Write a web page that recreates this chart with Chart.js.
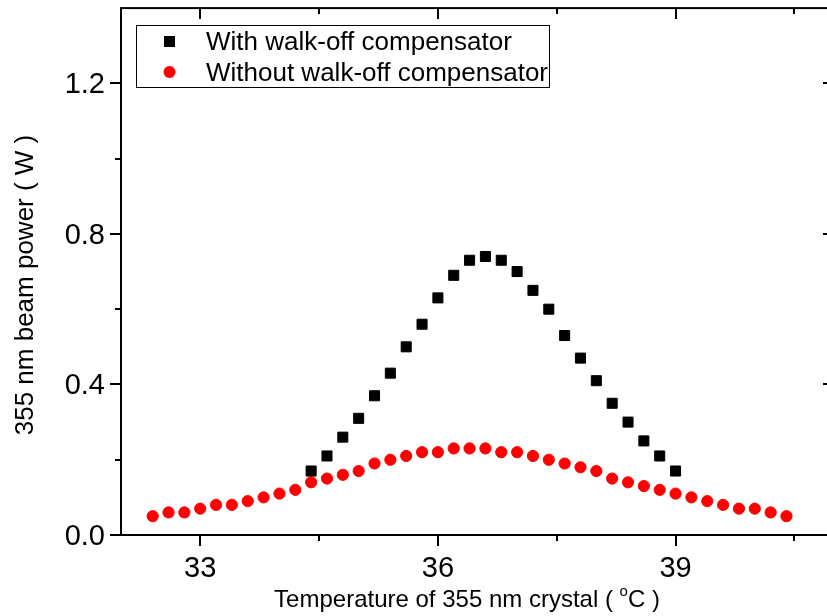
<!DOCTYPE html>
<html lang="en">
<head>
    <meta charset="UTF-8">
    <title>355 nm beam power vs temperature</title>
    <script src="https://cdn.jsdelivr.net/npm/chart.js"></script>
    <style>
        html, body {
            margin: 0;
            padding: 0;
            background: #fff;
            overflow: hidden;
        }
        .chart-box {
            width: 827px;
            height: 616px;
            overflow: hidden; /* the right axis sits just outside the picture */
        }
    </style>
</head>
<body>
    <div class="chart-box">
        <canvas id="powerChart" width="845" height="616"></canvas>
    </div>

    <script>
        // Temperatures (deg C) and measured power (W)
        const tempWith = [34.4, 34.6, 34.8, 35.0, 35.2, 35.4, 35.6, 35.8, 36.0, 36.2, 36.4, 36.6,
                          36.8, 37.0, 37.2, 37.4, 37.6, 37.8, 38.0, 38.2, 38.4, 38.6, 38.8, 39.0];
        const powerWith = [0.17, 0.21, 0.26, 0.31, 0.37, 0.43, 0.50, 0.56, 0.63, 0.69, 0.73, 0.74,
                           0.73, 0.70, 0.65, 0.60, 0.53, 0.47, 0.41, 0.35, 0.30, 0.25, 0.21, 0.17];

        const tempWithout = [32.4, 32.6, 32.8, 33.0, 33.2, 33.4, 33.6, 33.8, 34.0, 34.2, 34.4, 34.6,
                             34.8, 35.0, 35.2, 35.4, 35.6, 35.8, 36.0, 36.2, 36.4, 36.6, 36.8, 37.0,
                             37.2, 37.4, 37.6, 37.8, 38.0, 38.2, 38.4, 38.6, 38.8, 39.0, 39.2, 39.4,
                             39.6, 39.8, 40.0, 40.2, 40.4];
        const powerWithout = [0.05, 0.06, 0.06, 0.07, 0.08, 0.08, 0.09, 0.10, 0.11, 0.12, 0.14, 0.15,
                              0.16, 0.17, 0.19, 0.20, 0.21, 0.22, 0.22, 0.23, 0.23, 0.23, 0.22, 0.22,
                              0.21, 0.20, 0.19, 0.18, 0.17, 0.15, 0.14, 0.13, 0.12, 0.11, 0.10, 0.09,
                              0.08, 0.07, 0.07, 0.06, 0.05];

        // Axis ticks
        const xMajorTicks = [33, 36, 39];
        const xMinorTicks = [34.5, 37.5, 40.5];
        const yMajorTicks = [0.0, 0.4, 0.8, 1.2];
        const yMinorTicks = [0.2, 0.6, 1.0];

        const seriesNames = ['With walk-off compensator', 'Without walk-off compensator'];

        const FONT = '"Liberation Sans", Arial, sans-serif';

        function toPoints(xs, ys) {
            return xs.map((x, i) => ({ x: x, y: ys[i] }));
        }

        // Frame, ticks, labels and legend, drawn in the Origin style
        const originAxes = {
            id: 'originAxes',
            afterDraw(chart) {
                const ctx = chart.ctx;
                const area = chart.chartArea;
                const xs = chart.scales.x;
                const ys = chart.scales.y;
                const major = 11, minor = 6;

                ctx.save();
                ctx.strokeStyle = '#000';
                ctx.lineWidth = 2;
                ctx.strokeRect(area.left, area.top, area.right - area.left, area.bottom - area.top);

                ctx.beginPath();
                xMajorTicks.concat(xMinorTicks).forEach(v => {
                    const len = xMajorTicks.includes(v) ? major : minor;
                    const px = Math.round(xs.getPixelForValue(v));
                    ctx.moveTo(px, area.bottom); ctx.lineTo(px, area.bottom + len);
                    ctx.moveTo(px, area.top); ctx.lineTo(px, area.top + len);
                });
                yMajorTicks.concat(yMinorTicks).forEach(v => {
                    const len = yMajorTicks.includes(v) ? major : minor;
                    const py = Math.round(ys.getPixelForValue(v));
                    ctx.moveTo(area.left, py); ctx.lineTo(area.left - len, py);
                    ctx.moveTo(area.right, py); ctx.lineTo(area.right - len, py);
                });
                ctx.stroke();

                // tick labels
                ctx.fillStyle = '#000';
                ctx.font = '29px ' + FONT;
                ctx.textBaseline = 'alphabetic';
                ctx.textAlign = 'center';
                xMajorTicks.forEach(v => {
                    ctx.fillText(String(v), xs.getPixelForValue(v), 577);
                });
                ctx.textAlign = 'right';
                yMajorTicks.forEach(v => {
                    ctx.fillText(v.toFixed(1), area.left - major - 5, ys.getPixelForValue(v) + 10);
                });

                // x title with superscript degree sign
                ctx.textAlign = 'left';
                const partA = 'Temperature of 355 nm crystal ( ';
                const partB = 'C )';
                ctx.font = '24px ' + FONT;
                const wA = ctx.measureText(partA).width;
                const wB = ctx.measureText(partB).width;
                ctx.font = '15px ' + FONT;
                const wO = ctx.measureText('o').width;
                let tx = 467 - (wA + wO + wB) / 2;
                ctx.font = '24px ' + FONT;
                ctx.fillText(partA, tx, 607);
                ctx.font = '15px ' + FONT;
                ctx.fillText('o', tx + wA, 596);
                ctx.font = '24px ' + FONT;
                ctx.fillText(partB, tx + wA + wO, 607);

                // y title
                ctx.save();
                ctx.font = '26px ' + FONT;
                ctx.translate(33, 285);
                ctx.rotate(-Math.PI / 2);
                ctx.textAlign = 'center';
                ctx.fillText('355 nm beam power ( W )', 0, 0);
                ctx.restore();

                // legend box
                ctx.lineWidth = 1;
                ctx.strokeRect(136.5, 25.5, 413, 62);
                ctx.fillStyle = '#000';
                ctx.fillRect(164, 36, 11, 11);
                ctx.fillStyle = '#ff0000';
                ctx.beginPath();
                ctx.arc(169.5, 72, 6, 0, Math.PI * 2);
                ctx.fill();
                ctx.fillStyle = '#000';
                ctx.font = '26px ' + FONT;
                ctx.textAlign = 'left';
                ctx.fillText(seriesNames[0], 206, 50);
                ctx.fillText(seriesNames[1], 206, 81);
                ctx.restore();
            }
        };

        const chart = new Chart(document.getElementById('powerChart'), {
            type: 'scatter',
            data: {
                datasets: [{
                    label: seriesNames[0],
                    data: toPoints(tempWith, powerWith),
                    pointStyle: 'rect',
                    pointRadius: 7.1,
                    pointBorderWidth: 1,
                    backgroundColor: '#000000',
                    borderColor: '#000000'
                }, {
                    label: seriesNames[1],
                    data: toPoints(tempWithout, powerWithout),
                    pointStyle: 'circle',
                    pointRadius: 5.6,
                    pointBorderWidth: 1,
                    backgroundColor: '#ff0000',
                    borderColor: '#ff0000'
                }]
            },
            options: {
                responsive: false,
                animation: false,
                layout: {
                    padding: { left: 121, top: 8, right: 11, bottom: 81 }
                },
                scales: {
                    x: { type: 'linear', min: 32, max: 41, display: false },
                    y: { type: 'linear', min: 0, max: 1.4, display: false }
                },
                plugins: {
                    legend: { display: false },
                    tooltip: { enabled: false }
                }
            },
            plugins: [originAxes]
        });
    </script>
</body>
</html>
